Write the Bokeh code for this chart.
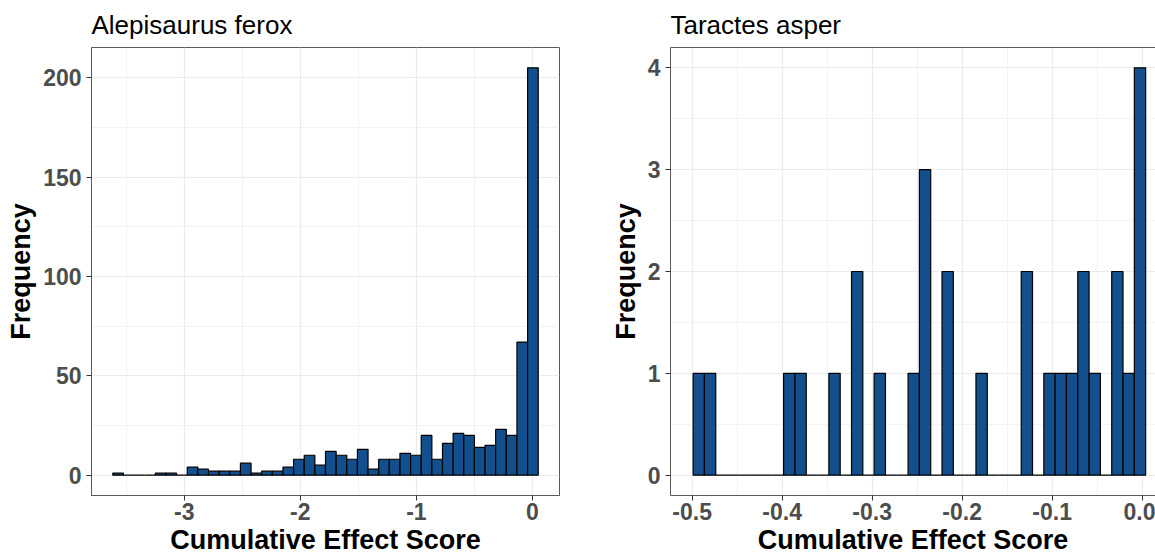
from bokeh.plotting import figure
from bokeh.layouts import row
from bokeh.models import FixedTicker, LinearAxis, Range1d
from bokeh.embed import file_html
from bokeh.resources import INLINE

# ---------------- data ----------------
left_title = "Alepisaurus ferox"
left_counts = [1, 0, 0, 0, 1, 1, 0, 4, 3, 2, 2, 2, 6, 1, 2, 2, 4, 8, 10, 5,
               12, 10, 8, 13, 3, 8, 8, 11, 10, 20, 8, 16, 21, 20, 14, 15, 23, 20, 67, 205]
left_bin_start = -3.6162
left_bin_width = 0.09165
left_xticks = [-3, -2, -1, 0]
left_xtick_labels = ["-3", "-2", "-1", "0"]
left_xminor = [-3.5, -2.5, -1.5, -0.5]
left_yticks = [0, 50, 100, 150, 200]
left_yminor = [25, 75, 125, 175]

right_title = "Taractes asper"
right_counts = [1, 1, 0, 0, 0, 0, 0, 0, 1, 1, 0, 0, 1, 0, 2, 0, 1, 0, 0, 1,
                3, 0, 2, 0, 0, 1, 0, 0, 0, 2, 0, 1, 1, 1, 2, 1, 0, 2, 1, 4]
right_bin_start = -0.4989
right_bin_width = 0.01257
right_xticks = [-0.5, -0.4, -0.3, -0.2, -0.1, 0.0]
right_xtick_labels = ["-0.5", "-0.4", "-0.3", "-0.2", "-0.1", "0.0"]
right_xminor = [-0.45, -0.35, -0.25, -0.15, -0.05]
right_yticks = [0, 1, 2, 3, 4]
right_yminor = [0.5, 1.5, 2.5, 3.5]

x_title = "Cumulative Effect Score"
y_title = "Frequency"

# ---------------- style ----------------
FONT = "Liberation Sans"
FILL = "#134F8C"
BORDER = "#5a5a5a"
GRID = "#EBEBEB"
TICKC = "#333333"
H = 560


def expand(lo, hi, f=0.05):
    d = (hi - lo) * f
    return lo - d, hi + d


def style_axes(p, xticks, xminor, xlabels, yticks, yminor):
    p.xaxis.ticker = FixedTicker(ticks=xticks, minor_ticks=xminor)
    p.yaxis.ticker = FixedTicker(ticks=yticks, minor_ticks=yminor)
    p.xaxis.major_label_overrides = {t: l for t, l in zip(xticks, xlabels)}
    p.yaxis.major_label_overrides = {t: str(t) for t in yticks}
    for ax in (p.xaxis[0], p.yaxis[0]):
        ax.major_tick_out = 5
        ax.major_tick_in = 0
        ax.major_tick_line_color = TICKC
        ax.major_tick_line_width = 1
        ax.minor_tick_line_color = None
        ax.major_label_text_font = FONT
        ax.major_label_text_font_style = "bold"
        ax.major_label_text_font_size = "23px"
        ax.major_label_text_color = "#4D4D4D"
        ax.axis_label_text_font = FONT
        ax.axis_label_text_font_style = "bold"
        ax.axis_label_text_font_size = "27px"
        ax.axis_label_text_color = "black"
    p.xaxis.major_label_standoff = 2
    p.xaxis.axis_label_standoff = 2
    p.yaxis.major_label_standoff = 5
    p.yaxis.axis_label_standoff = 4
    p.xaxis.axis_label = x_title
    p.yaxis.axis_label = y_title
    for g in (p.xgrid[0], p.ygrid[0]):
        g.grid_line_color = GRID
        g.grid_line_width = 1.2
        g.minor_grid_line_color = GRID
        g.minor_grid_line_width = 0.6
    p.title.text_font = FONT
    p.title.text_font_style = "normal"
    p.title.text_font_size = "26px"
    p.title.text_color = "black"
    p.title.align = "left"
    p.title.standoff = 15
    p.background_fill_color = "white"
    p.border_fill_color = "white"


# ---------------- left panel ----------------
L_W = 607
L_BL, L_BR = 91, 48
l_lefts = [left_bin_start + i * left_bin_width for i in range(len(left_counts))]
l_rights = [x + left_bin_width for x in l_lefts]
lx0, lx1 = expand(l_lefts[0], l_rights[-1])
ly0, ly1 = expand(0, max(left_counts))

p1 = figure(width=L_W, height=H, title=left_title,
            x_range=Range1d(lx0, lx1), y_range=Range1d(ly0, ly1),
            output_backend="svg", toolbar_location=None,
            min_border_left=L_BL, min_border_right=L_BR,
            min_border_top=47, min_border_bottom=65)
style_axes(p1, left_xticks, left_xminor, left_xtick_labels, left_yticks, left_yminor)
p1.outline_line_color = BORDER
p1.outline_line_width = 1
p1.xaxis.axis_line_color = BORDER
p1.yaxis.axis_line_color = BORDER
p1.quad(left=l_lefts, right=l_rights, bottom=0, top=left_counts,
        fill_color=FILL, line_color="black", line_width=1.2)

# ---------------- right panel ----------------
R_W = 548
R_BL = 63
r_lefts = [right_bin_start + i * right_bin_width for i in range(len(right_counts))]
r_rights = [x + right_bin_width for x in r_lefts]
rx0, _rx1_full = expand(r_lefts[0], r_rights[-1])
PX_PER_UNIT = 900.0  # scale of the reference panel, which runs past the image edge
rx1 = rx0 + (R_W - R_BL) / PX_PER_UNIT
ry0, ry1 = expand(0, max(right_counts))

p2 = figure(width=R_W, height=H, title=right_title,
            x_range=Range1d(rx0, rx1), y_range=Range1d(ry0, ry1),
            output_backend="svg", toolbar_location=None,
            min_border_left=R_BL, min_border_right=0,
            min_border_top=46, min_border_bottom=62)
style_axes(p2, right_xticks, right_xminor, right_xtick_labels, right_yticks, right_yminor)
p2.outline_line_color = None
p2.xaxis.axis_line_color = BORDER
p2.yaxis.axis_line_color = BORDER
top_axis = LinearAxis(ticker=FixedTicker(ticks=[]), major_tick_out=0, major_tick_in=0,
                      minor_tick_out=0, minor_tick_in=0, axis_line_color=BORDER,
                      major_label_text_font_size="0px")
p2.add_layout(top_axis, "above")
p2.quad(left=r_lefts, right=r_rights, bottom=0, top=right_counts,
        fill_color=FILL, line_color="black", line_width=1.2)

layout = row(p1, p2)
open("out.html", "w").write(file_html(layout, INLINE))
